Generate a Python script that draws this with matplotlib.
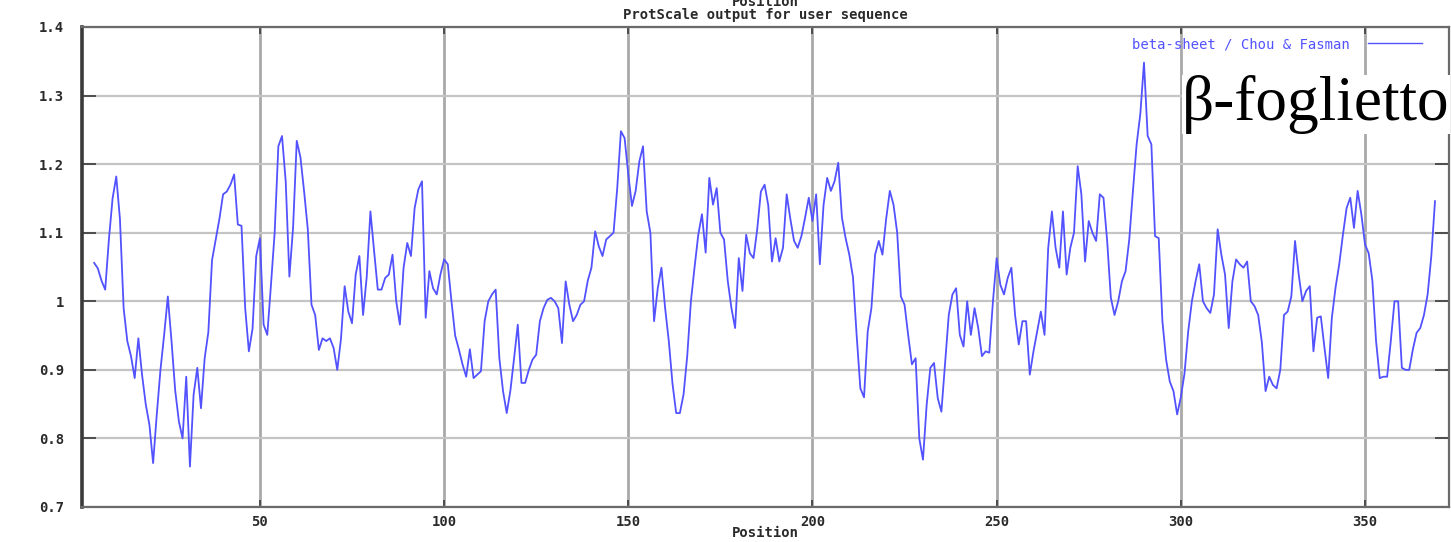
import matplotlib
matplotlib.use("Agg")
import matplotlib.pyplot as plt
import numpy as np

# Chou & Fasman beta-sheet scale, window averaged, one value per residue
first_pos = 5
beta_sheet = [
    1.056, 1.048, 1.03, 1.017, 1.09, 1.15, 1.182, 1.12, 0.99, 0.942,      # 5-14
    0.92, 0.888, 0.946, 0.893, 0.85, 0.82, 0.764, 0.835, 0.90, 0.951,     # 15-24
    1.007, 0.942, 0.87, 0.825, 0.80, 0.89, 0.759, 0.864, 0.903, 0.844,    # 25-34
    0.917, 0.955, 1.06, 1.09, 1.12, 1.156, 1.16, 1.17, 1.185, 1.112,      # 35-44
    1.11, 0.99, 0.927, 0.96, 1.066, 1.092, 0.966, 0.951, 1.024, 1.10,     # 45-54
    1.226, 1.241, 1.175, 1.036, 1.107, 1.234, 1.21, 1.16, 1.105, 0.995,   # 55-64
    0.98, 0.929, 0.946, 0.942, 0.946, 0.932, 0.90, 0.945, 1.022, 0.985,   # 65-74
    0.968, 1.039, 1.066, 0.98, 1.036, 1.131, 1.073, 1.017, 1.017, 1.034,  # 75-84
    1.039, 1.068, 1.0, 0.966, 1.049, 1.085, 1.066, 1.136, 1.163, 1.175,   # 85-94
    0.976, 1.044, 1.019, 1.01, 1.039, 1.061, 1.054, 1.0, 0.95, 0.93,      # 95-104
    0.908, 0.89, 0.93, 0.888, 0.893, 0.898, 0.971, 1.0, 1.01, 1.017,      # 105-114
    0.917, 0.869, 0.837, 0.87, 0.917, 0.966, 0.881, 0.881, 0.90, 0.915,   # 115-124
    0.922, 0.971, 0.99, 1.002, 1.005, 1.0, 0.99, 0.939, 1.029, 0.995,     # 125-134
    0.971, 0.98, 0.995, 1.0, 1.03, 1.049, 1.102, 1.08, 1.066, 1.09,       # 135-144
    1.095, 1.10, 1.165, 1.248, 1.238, 1.185, 1.139, 1.161, 1.204, 1.226,  # 145-154
    1.131, 1.10, 0.971, 1.019, 1.049, 0.99, 0.942, 0.88, 0.837, 0.837,    # 155-164
    0.864, 0.92, 1.0, 1.05, 1.097, 1.127, 1.071, 1.18, 1.141, 1.165,      # 165-174
    1.10, 1.09, 1.03, 0.99, 0.961, 1.063, 1.015, 1.097, 1.07, 1.063,      # 175-184
    1.105, 1.16, 1.17, 1.14, 1.058, 1.092, 1.058, 1.078, 1.156, 1.12,     # 185-194
    1.088, 1.078, 1.095, 1.122, 1.151, 1.117, 1.156, 1.054, 1.14, 1.18,   # 195-204
    1.161, 1.175, 1.202, 1.122, 1.092, 1.068, 1.035, 0.95, 0.873, 0.86,   # 205-214
    0.956, 0.99, 1.068, 1.088, 1.068, 1.12, 1.161, 1.141, 1.10, 1.007,    # 215-224
    0.995, 0.95, 0.908, 0.917, 0.80, 0.769, 0.849, 0.903, 0.91, 0.859,    # 225-234
    0.839, 0.91, 0.98, 1.01, 1.019, 0.951, 0.934, 1.0, 0.951, 0.99,       # 235-244
    0.961, 0.92, 0.927, 0.925, 1.0, 1.063, 1.024, 1.01, 1.034, 1.049,     # 245-254
    0.98, 0.937, 0.971, 0.971, 0.893, 0.927, 0.956, 0.985, 0.951, 1.078,  # 255-264
    1.131, 1.078, 1.049, 1.131, 1.039, 1.078, 1.10, 1.197, 1.156, 1.058,  # 265-274
    1.117, 1.10, 1.088, 1.156, 1.151, 1.088, 1.005, 0.98, 1.0, 1.029,     # 275-284
    1.044, 1.09, 1.161, 1.229, 1.273, 1.348, 1.241, 1.229, 1.095, 1.092,  # 285-294
    0.971, 0.915, 0.883, 0.869, 0.835, 0.86, 0.895, 0.956, 1.0, 1.029,    # 295-304
    1.054, 1.0, 0.99, 0.983, 1.01, 1.105, 1.068, 1.039, 0.961, 1.029,     # 305-314
    1.061, 1.054, 1.049, 1.058, 1.0, 0.993, 0.98, 0.94, 0.869, 0.89,      # 315-324
    0.878, 0.873, 0.90, 0.98, 0.985, 1.007, 1.088, 1.039, 1.0, 1.015,     # 325-334
    1.022, 0.927, 0.976, 0.978, 0.932, 0.888, 0.976, 1.02, 1.054, 1.097,  # 335-344
    1.136, 1.151, 1.107, 1.161, 1.127, 1.083, 1.07, 1.03, 0.942, 0.888,   # 345-354
    0.89, 0.89, 0.942, 1.0, 1.0, 0.903, 0.90, 0.90, 0.93, 0.954,          # 355-364
    0.961, 0.98, 1.01, 1.066, 1.146,                                      # 365-369
]
positions = np.arange(first_pos, first_pos + len(beta_sheet))

x_ticks = [50, 100, 150, 200, 250, 300, 350]
y_ticks = [0.7, 0.8, 0.9, 1.0, 1.1, 1.2, 1.3, 1.4]
y_labels = ["0.7", "0.8", "0.9", "1", "1.1", "1.2", "1.3", "1.4"]

W, H = 1451, 542
line_col = "#5252ff"
txt_col = "#2a2a2a"
mono = "DejaVu Sans Mono"

fig = plt.figure(figsize=(W / 100, H / 100), dpi=100)
ax = fig.add_axes([82 / W, 1 - 507 / H, (1449 - 82) / W, (507 - 27) / H])

ax.plot(positions, beta_sheet, color=line_col, lw=1.3,
        label="beta-sheet / Chou & Fasman", zorder=3)

ax.set_xlim(1.7, 372.8)
ax.set_ylim(0.7, 1.4)
ax.set_xticks(x_ticks)
ax.set_yticks(y_ticks)
ax.set_yticklabels(y_labels)

ax.xaxis.grid(True, color="#a9a9a9", lw=2.0, zorder=0)
ax.yaxis.grid(True, color="#c4c4c4", lw=1.6, zorder=0)

ax.tick_params(axis="x", direction="in", length=5, width=1.3, color="#444444",
               top=True, pad=6, labelsize=10, labelcolor=txt_col)
ax.tick_params(axis="y", direction="in", length=10, width=1.3, color="#444444",
               right=True, pad=13, labelsize=10, labelcolor=txt_col)
for lab in ax.get_xticklabels() + ax.get_yticklabels():
    lab.set_family(mono)
    lab.set_weight("bold")

for side in ["top", "right", "bottom"]:
    ax.spines[side].set_color("#6a6a6a")
    ax.spines[side].set_linewidth(1.6)
ax.spines["left"].set_color("#3a3a3a")
ax.spines["left"].set_linewidth(2.6)

ax.set_xlabel("Position", family=mono, weight="bold", fontsize=10, color=txt_col)
ax.xaxis.set_label_coords(0.5, -(533 - 507) / 480)
ax.xaxis.label.set_va("center")

# gnuplot style header: x2 label pushed against the top edge, then the title
ax.text(0.5, 1 + (27 - 2) / 480, "Position", transform=ax.transAxes,
        ha="center", va="center", family=mono, weight="bold",
        fontsize=10, color=txt_col)
ax.text(0.5, 1 + (27 - 15) / 480, "ProtScale output for user sequence",
        transform=ax.transAxes, ha="center", va="center", family=mono,
        weight="bold", fontsize=10, color=txt_col)

leg = ax.legend(loc="center right", bbox_to_anchor=(1422 / W, 1 - 44 / H),
                bbox_transform=fig.transFigure, markerfirst=False,
                frameon=False, handlelength=3.9, handletextpad=1.3,
                borderpad=0, borderaxespad=0,
                prop={"family": mono, "size": 10}, labelcolor=line_col)
for h in leg.get_lines():
    h.set_linewidth(1.0)

fig.text(1182 / W, 1 - 120 / H, "β-foglietto", family="Liberation Serif",
         fontsize=45.5, color="black", ha="left", va="baseline", zorder=10,
         bbox=dict(facecolor="white", edgecolor="none", pad=0))

fig.savefig("out.png", dpi=100)
